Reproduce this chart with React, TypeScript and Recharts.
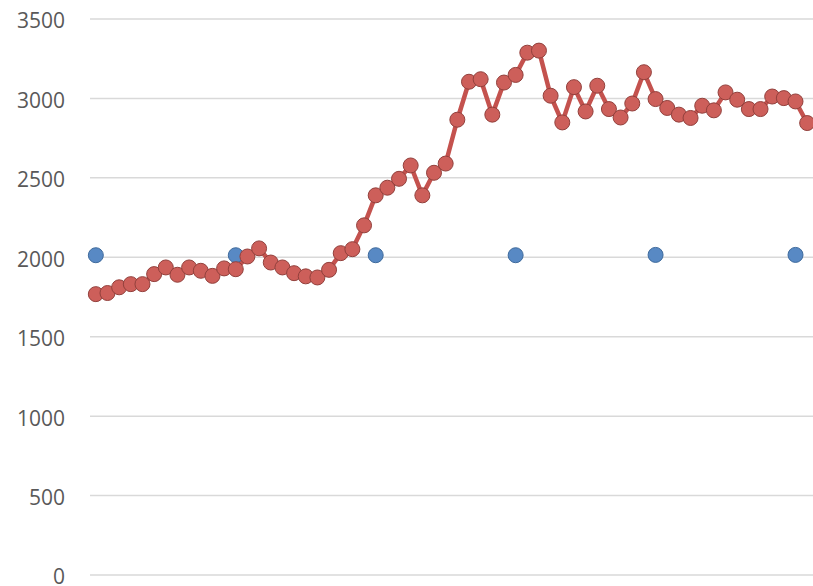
import React from "react";
import { ComposedChart, Line, XAxis, YAxis, CartesianGrid } from "recharts";

const categories: string[] = [
  "1","2","3","4","5","6","7","8","9","10","11","12","13","14","15","16","17","18","19","20",
  "21","22","23","24","25","26","27","28","29","30","31","32","33","34","35","36","37","38","39","40",
  "41","42","43","44","45","46","47","48","49","50","51","52","53","54","55","56","57","58","59","60",
  "61","62",
];

const redValues: number[] = [
  1768, 1775, 1811, 1831, 1831, 1894, 1936, 1890, 1936, 1915,
  1883, 1930, 1925, 2005, 2056, 1967, 1936, 1900, 1880, 1873,
  1921, 2026, 2051, 2201, 2390, 2438, 2494, 2578, 2390, 2532,
  2590, 2866, 3105, 3121, 2898, 3100, 3148, 3288, 3301, 3017,
  2849, 3071, 2918, 3080, 2933, 2880, 2968, 3165, 2996, 2940,
  2898, 2877, 2954, 2925, 3038, 2992, 2933, 2933, 3012, 3002,
  2981, 2845,
];

const blueCategories: string[] = ["1", "13", "25", "37", "49", "61"];
const blueValues: number[] = [2013, 2013, 2013, 2013, 2015, 2015];

const yTicks: number[] = [0, 500, 1000, 1500, 2000, 2500, 3000, 3500];

const data = categories.map((c, i) => {
  const bi = blueCategories.indexOf(c);
  return { cat: c, red: redValues[i], blue: bi >= 0 ? blueValues[bi] : null };
});

export default function App() {
  return (
    <div style={{ position: "absolute", left: 0, top: 0 }}>
      <ComposedChart
        width={813}
        height={586}
        data={data}
        margin={{ top: 19, right: 0, bottom: 11, left: 0 }}
      >
        <CartesianGrid vertical={false} stroke="#D9D9D9" strokeWidth={1.5} />
        <XAxis dataKey="cat" hide scale="band" />
        <YAxis
          width={90}
          domain={[0, 3500]}
          ticks={yTicks}
          interval={0}
          axisLine={false}
          tickLine={false}
          tickSize={0}
          tickMargin={25}
          tick={{ fill: "#595959", fontSize: 21, fontFamily: "Open Sans", dy: 2 }}
        />
        <Line
          dataKey="blue"
          stroke="none"
          connectNulls={false}
          isAnimationActive={false}
          dot={{ r: 7.5, fill: "#5889C4", stroke: "#3E6A9C", strokeWidth: 1 }}
          activeDot={false}
        />
        <Line
          dataKey="red"
          stroke="#C4524E"
          strokeWidth={4.5}
          isAnimationActive={false}
          dot={{ r: 7.5, fill: "#CD5F5A", stroke: "#92403C", strokeWidth: 1 }}
          activeDot={false}
        />
      </ComposedChart>
    </div>
  );
}
